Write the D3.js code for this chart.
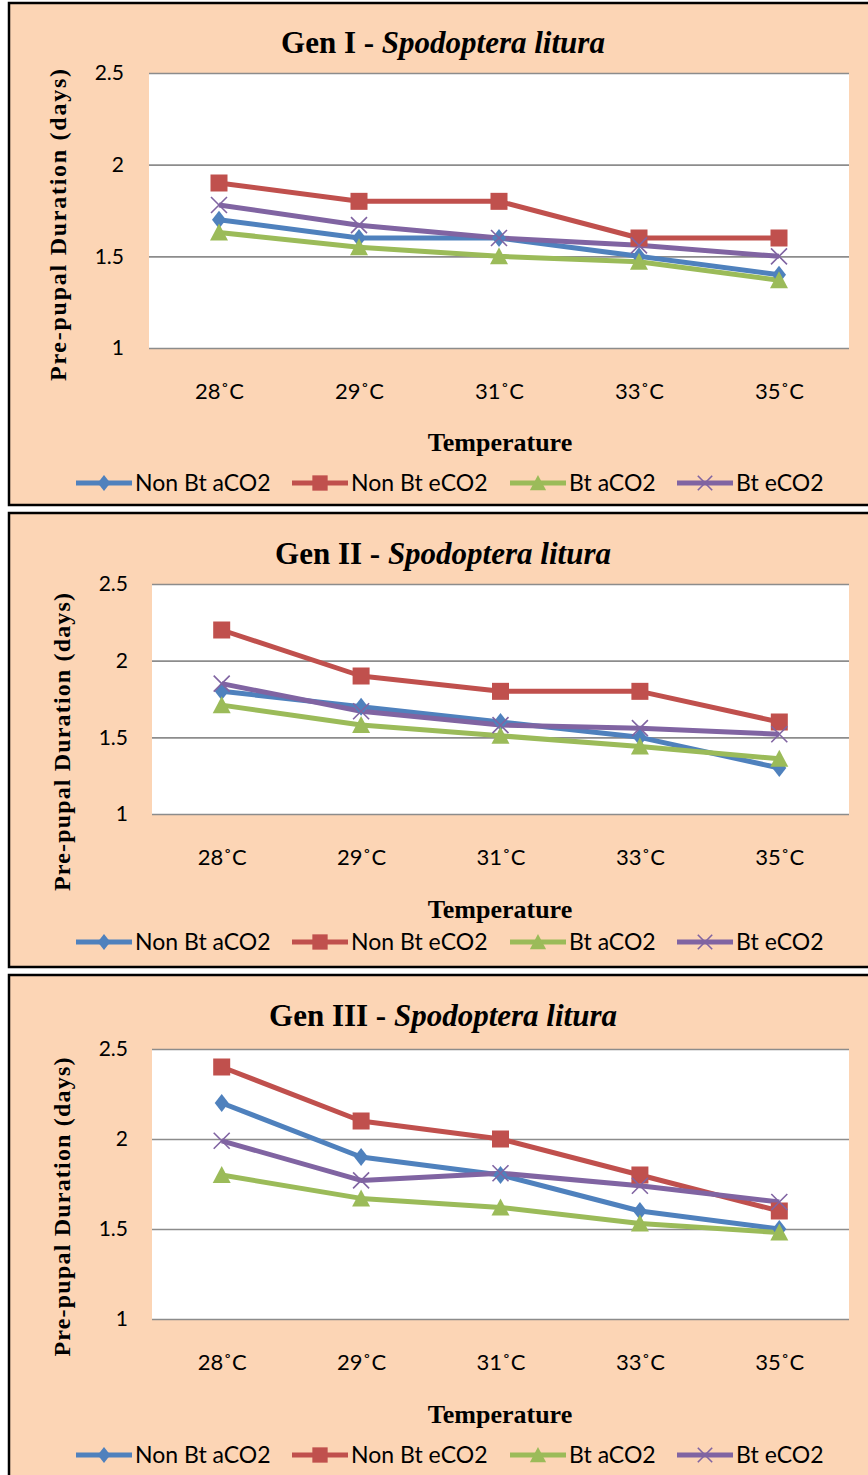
<!DOCTYPE html>
<html>
<head>
<meta charset="utf-8">
<script src="https://cdn.jsdelivr.net/npm/d3@7"></script>
<style>
    body { margin: 0; background: #ffffff; }
    svg { display: block; }
</style>
</head>
<body>
<div id="chart"></div>
<script>
    "use strict";

    // categories and ticks shared by all three panels
    var temperatures = ["28˚C", "29˚C", "31˚C", "33˚C", "35˚C"];
    var yTicks = [1, 1.5, 2, 2.5];
    var seriesNames = ["Non Bt aCO2", "Non Bt eCO2", "Bt aCO2", "Bt eCO2"];

    // Gen I values
    var gen1NonBtA = [1.7, 1.6, 1.6, 1.5, 1.4];
    var gen1NonBtE = [1.9, 1.8, 1.8, 1.6, 1.6];
    var gen1BtA = [1.63, 1.55, 1.5, 1.47, 1.37];
    var gen1BtE = [1.78, 1.67, 1.6, 1.56, 1.5];

    // Gen II
    var gen2NonBtA = [1.8, 1.7, 1.6, 1.5, 1.3];
    var gen2NonBtE = [2.2, 1.9, 1.8, 1.8, 1.6];
    var gen2BtA = [1.71, 1.58, 1.51, 1.44, 1.36];
    var gen2BtE = [1.85, 1.67, 1.58, 1.56, 1.52];

    // Gen III
    var gen3NonBtA = [2.2, 1.9, 1.8, 1.6, 1.5];
    var gen3NonBtE = [2.4, 2.1, 2.0, 1.8, 1.6];
    var gen3BtA = [1.8, 1.67, 1.62, 1.53, 1.48];
    var gen3BtE = [1.99, 1.77, 1.81, 1.74, 1.65];

    var colors = ["#4F81BD", "#C0504D", "#9BBB59", "#8064A2"];
    var markers = ["diamond", "square", "triangle", "cross"];

    var W = 868, H = 1475;
    var bg = "#FCD5B5";
    var sansFont = "Lato, 'Open Sans', sans-serif";
    var serifFont = "'Liberation Serif', 'Times New Roman', serif";

    // panel layout (pixels)
    var panels = [
        { gen: "Gen I", values: [gen1NonBtA, gen1NonBtE, gen1BtA, gen1BtE],
          top: 3, bottom: 505, x0: 149, x1: 849, y0: 73, y1: 348,
          titleY: 42, catY: 391, axisY: 442, legendY: 483,
          ylabX: 58, ylabY: 225, ylabLen: 312, tickX: 124 },
        { gen: "Gen II", values: [gen2NonBtA, gen2NonBtE, gen2BtA, gen2BtE],
          top: 513, bottom: 967, x0: 152, x1: 849, y0: 584, y1: 814,
          titleY: 553, catY: 857, axisY: 909, legendY: 942,
          ylabX: 62, ylabY: 742, ylabLen: 298, tickX: 128 },
        { gen: "Gen III", values: [gen3NonBtA, gen3NonBtE, gen3BtA, gen3BtE],
          top: 975, bottom: 1490, x0: 152, x1: 849, y0: 1049, y1: 1319,
          titleY: 1015, catY: 1362, axisY: 1414, legendY: 1455,
          ylabX: 62, ylabY: 1207, ylabLen: 299, tickX: 128 }
    ];

    var legendX = [76, 292, 510, 677];

    var svg = d3.select("#chart")
        .append("svg")
        .attr("width", W)
        .attr("height", H);

    /** draws the marker of a series at 0,0 inside g */
    function drawMarker(g, kind, color, s) {
        if (kind === "diamond") {
            g.append("path")
                .attr("d", "M0," + (-9 * s) + "L" + (7 * s) + ",0L0," + (9 * s) + "L" + (-7 * s) + ",0Z")
                .attr("fill", color);
        } else if (kind === "square") {
            g.append("rect")
                .attr("x", -8.5 * s).attr("y", -8.5 * s)
                .attr("width", 17 * s).attr("height", 17 * s)
                .attr("fill", color);
        } else if (kind === "triangle") {
            g.append("path")
                .attr("d", "M0," + (-9 * s) + "L" + (9 * s) + "," + (8 * s) + "L" + (-9 * s) + "," + (8 * s) + "Z")
                .attr("fill", color);
        } else {
            var r = 8 * s;
            g.append("path")
                .attr("d", "M" + (-r) + "," + (-r) + "L" + r + "," + r + "M" + r + "," + (-r) + "L" + (-r) + "," + r)
                .attr("stroke", color)
                .attr("stroke-width", 1.6)
                .attr("fill", "none");
        }
    }

    function drawPanel(p) {
        var g = svg.append("g");

        g.append("rect")
            .attr("x", 9)
            .attr("y", p.top)
            .attr("width", W + 10)
            .attr("height", p.bottom - p.top)
            .attr("fill", bg)
            .attr("stroke", "#000")
            .attr("stroke-width", 2.5);

        var x = d3.scalePoint()
            .domain(temperatures)
            .range([p.x0, p.x1])
            .padding(0.5);
        var y = d3.scaleLinear()
            .domain([1, 2.5])
            .range([p.y1, p.y0]);

        // plot area
        g.append("rect")
            .attr("x", p.x0)
            .attr("y", p.y0)
            .attr("width", p.x1 - p.x0)
            .attr("height", p.y1 - p.y0)
            .attr("fill", "#fff");

        // gridlines + tick labels
        var yAxis = g.append("g")
            .attr("transform", "translate(" + p.x0 + ",0)")
            .call(d3.axisLeft(y)
                .tickValues(yTicks)
                .tickSize(-(p.x1 - p.x0))
                .tickPadding(p.x0 - p.tickX)
                .tickFormat(d3.format("")));
        yAxis.select(".domain").remove();
        yAxis.selectAll(".tick line")
            .attr("stroke", "#8C8C8C")
            .attr("stroke-width", 1.6);
        yAxis.selectAll(".tick text")
            .attr("font-family", sansFont)
            .attr("font-size", 21)
            .attr("fill", "#000");

        // category labels
        var xAxis = g.append("g")
            .attr("transform", "translate(0," + p.y1 + ")")
            .call(d3.axisBottom(x).tickSize(0).tickPadding(0));
        xAxis.select(".domain").remove();
        xAxis.selectAll(".tick text")
            .attr("y", p.catY - p.y1)
            .attr("dy", "0.35em")
            .attr("font-family", sansFont)
            .attr("font-size", 22)
            .attr("fill", "#000");

        // series lines
        var line = d3.line()
            .x(function (d, i) { return x(temperatures[i]); })
            .y(function (d) { return y(d); });

        p.values.forEach(function (vals, k) {
            g.append("path")
                .datum(vals)
                .attr("d", line)
                .attr("fill", "none")
                .attr("stroke", colors[k])
                .attr("stroke-width", 5)
                .attr("stroke-linejoin", "round");
        });
        p.values.forEach(function (vals, k) {
            vals.forEach(function (v, i) {
                var m = g.append("g")
                    .attr("transform", "translate(" + x(temperatures[i]) + "," + y(v) + ")");
                drawMarker(m, markers[k], colors[k], 1);
            });
        });

        // title
        var title = g.append("text")
            .attr("x", 443)
            .attr("y", p.titleY)
            .attr("dy", "0.35em")
            .attr("text-anchor", "middle")
            .attr("font-family", serifFont)
            .attr("font-weight", "bold")
            .attr("font-size", 31)
            .attr("fill", "#000");
        title.append("tspan").text(p.gen + " - ");
        title.append("tspan").attr("font-style", "italic").text("Spodoptera litura");

        // axis titles
        g.append("text")
            .attr("transform", "translate(" + p.ylabX + "," + p.ylabY + ") rotate(-90)")
            .attr("dy", "0.35em")
            .attr("text-anchor", "middle")
            .attr("font-family", serifFont)
            .attr("font-weight", "bold")
            .attr("font-size", 24)
            .attr("textLength", p.ylabLen)
            .attr("lengthAdjust", "spacing")
            .attr("fill", "#000")
            .text("Pre-pupal Duration (days)");

        g.append("text")
            .attr("x", 500)
            .attr("y", p.axisY)
            .attr("dy", "0.35em")
            .attr("text-anchor", "middle")
            .attr("font-family", serifFont)
            .attr("font-weight", "bold")
            .attr("font-size", 26)
            .attr("fill", "#000")
            .text("Temperature");

        // legend
        seriesNames.forEach(function (name, k) {
            var lg = g.append("g")
                .attr("transform", "translate(" + legendX[k] + "," + p.legendY + ")");
            lg.append("line")
                .attr("x1", 0).attr("x2", 56)
                .attr("stroke", colors[k])
                .attr("stroke-width", 5);
            var m = lg.append("g").attr("transform", "translate(28,0)");
            drawMarker(m, markers[k], colors[k], 0.9);
            lg.append("text")
                .attr("x", 59)
                .attr("dy", "0.35em")
                .attr("font-family", sansFont)
                .attr("font-size", 23)
                .attr("fill", "#000")
                .text(name);
        });
    }

    panels.forEach(drawPanel);
</script>
</body>
</html>
